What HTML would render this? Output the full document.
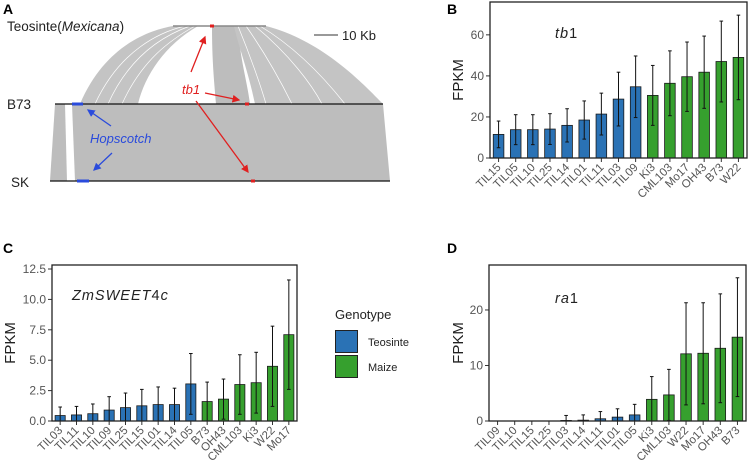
<!DOCTYPE html>
<html><head><meta charset="utf-8"><style>
html,body{margin:0;padding:0;background:#fff;}
svg{display:block;font-family:"Liberation Sans",Arial,sans-serif;}
</style></head><body>
<svg id="fig" width="749" height="467" viewBox="0 0 749 467">
<g>
  <text x="3" y="14" font-size="14" font-weight="bold">A</text>
  <text x="7" y="31" font-size="13.5" fill="#222">Teosinte(<tspan font-style="italic">Mexicana</tspan>)</text>
  <text x="7" y="109" font-size="13.5" fill="#222">B73</text>
  <text x="11" y="187" font-size="13.5" fill="#222">SK</text>
  <path d="M55,104 L65,104 L67,181 L50,181 Z" fill="#bdbdbd"/>
  <path d="M72,104 L383,104 L390,181 L75,181 Z" fill="#bdbdbd"/>
  <path d="M80,104 C105,45 150,30 173,26 L198,26 C165,45 145,75 138,104 Z" fill="#c4c4c4"/>
  <path d="M95,104 C120,50 160,32 185,26 M108,104 C130,55 165,35 190,26 M122,104 C142,60 170,40 195,26" stroke="#fff" stroke-width="0.7" fill="none"/>
  <path d="M212,26 L238,26 C240,60 247,80 250,104 L216,104 C214,80 212,60 212,26 Z" fill="#bdbdbd"/>
  <path d="M234,26 L266,26 C320,40 360,80 383,104 L255,104 C248,70 238,45 234,26 Z" fill="#c4c4c4"/>
  <path d="M238,26 C252,60 262,90 266,104 M246,26 C270,60 285,90 292,104 M255,26 C290,55 312,85 322,104 M260,26 C300,50 330,85 345,104" stroke="#fff" stroke-width="0.7" fill="none"/>
  <line x1="173" y1="26" x2="266" y2="26" stroke="#888" stroke-width="1.5"/>
  <line x1="55" y1="104" x2="383" y2="104" stroke="#111" stroke-width="1.2"/>
  <line x1="50" y1="181" x2="390" y2="181" stroke="#111" stroke-width="1.2"/>
  <rect x="72" y="102.5" width="11" height="3" fill="#2a4bdc"/>
  <rect x="77" y="179.5" width="12" height="3" fill="#2a4bdc"/>
  <rect x="210" y="24.5" width="4" height="3" fill="#e02020"/>
  <rect x="245" y="102.5" width="4" height="3" fill="#e02020"/>
  <rect x="251" y="179.5" width="4" height="3" fill="#e02020"/>
  <defs>
    <marker id="ar" markerWidth="6" markerHeight="6" refX="5" refY="3" orient="auto"><path d="M0,0 L6,3 L0,6 Z" fill="#e02020"/></marker>
    <marker id="ab" markerWidth="6" markerHeight="6" refX="5" refY="3" orient="auto"><path d="M0,0 L6,3 L0,6 Z" fill="#2a4bdc"/></marker>
  </defs>
  <text x="182" y="94" font-size="13" font-style="italic" fill="#e02020">tb1</text>
  <line x1="191" y1="72" x2="205" y2="37" stroke="#e02020" stroke-width="1.3" marker-end="url(#ar)"/>
  <line x1="205" y1="93" x2="239" y2="100" stroke="#e02020" stroke-width="1.3" marker-end="url(#ar)"/>
  <line x1="196" y1="101" x2="248" y2="172" stroke="#e02020" stroke-width="1.3" marker-end="url(#ar)"/>
  <text x="90" y="143" font-size="13" font-style="italic" fill="#2a4bdc">Hopscotch</text>
  <line x1="111" y1="126" x2="88" y2="110" stroke="#2a4bdc" stroke-width="1.3" marker-end="url(#ab)"/>
  <line x1="112" y1="153" x2="94" y2="170" stroke="#2a4bdc" stroke-width="1.3" marker-end="url(#ab)"/>
  <line x1="314" y1="35" x2="338" y2="35" stroke="#333" stroke-width="1"/>
  <text x="342" y="40" font-size="13" fill="#222">10 Kb</text>
</g>
<g>
  <text x="335" y="319" font-size="13" fill="#222">Genotype</text>
  <rect x="335.5" y="330.5" width="22" height="22" fill="#2a72b5" stroke="#222"/>
  <text x="368" y="346" font-size="11" fill="#222">Teosinte</text>
  <rect x="335.5" y="355.5" width="22" height="22" fill="#36a02e" stroke="#222"/>
  <text x="368" y="371" font-size="11" fill="#222">Maize</text>
</g>
</svg>
<script>
const bCats=["TIL15","TIL05","TIL10","TIL25","TIL14","TIL01","TIL11","TIL03","TIL09","Ki3","CML103","Mo17","OH43","B73","W22"];
const bMeans=[11.5,13.8,13.8,14.1,15.9,18.5,21.4,28.7,34.7,30.5,36.4,39.6,41.8,47,49];
const bErr=[6.5,7.3,7.3,7.5,8.1,9.3,10.2,13.1,15,14.6,15.8,16.9,17.6,19.7,20.6];
const bGroups=[0,0,0,0,0,0,0,0,0,1,1,1,1,1,1];
const bTicks=[0,20,40,60];
const cCats=["TIL03","TIL11","TIL10","TIL09","TIL25","TIL15","TIL01","TIL14","TIL05","B73","OH43","CML103","Ki3","W22","Mo17"];
const cMeans=[0.45,0.5,0.6,0.9,1.1,1.25,1.35,1.35,3.05,1.6,1.8,3.0,3.15,4.5,7.1];
const cErr=[0.7,0.7,0.8,1.1,1.2,1.35,1.45,1.35,2.5,1.6,1.65,2.45,2.5,3.3,4.5];
const cGroups=[0,0,0,0,0,0,0,0,0,1,1,1,1,1,1];
const cTicks=[0,2.5,5,7.5,10,12.5];
const cTickLabels=["0.0","2.5","5.0","7.5","10.0","12.5"];
const dCats=["TIL09","TIL10","TIL15","TIL25","TIL03","TIL14","TIL11","TIL01","TIL05","Ki3","CML103","W22","Mo17","OH43","B73"];
const dMeans=[0,0,0,0,0.1,0.15,0.4,0.7,1.1,3.9,4.7,12.1,12.2,13.1,15.1];
const dErr=[0,0,0,0,0.9,0.95,1.3,1.5,1.9,4.1,4.6,9.2,9.1,9.8,10.7];
const dGroups=[0,0,0,0,0,0,0,0,0,1,1,1,1,1,1];
const dTicks=[0,10,20];
const NS="http://www.w3.org/2000/svg";
const svg=document.getElementById('fig');
const colors=["#2a72b5","#36a02e"];
function mk(tag,attrs,parent){const e=document.createElementNS(NS,tag);for(const k in attrs)e.setAttribute(k,attrs[k]);(parent||svg).appendChild(e);return e;}
function panel(o){
  const g=mk('g',{});
  
  
  const {L,T,R,B,ymax}=o;
  const bw=(R-L)/o.cats.length;
  const y=v=>B-(v/ymax)*(B-T);
  const x=i=>L+bw*(i+0.5);
  const lt=mk('text',{x:o.letterX,y:o.letterY,'font-size':14,'font-weight':'bold'},g);lt.textContent=o.letter;
  
  
  o.ticks.forEach((t,i)=>{
    mk('line',{x1:L-4,x2:L,y1:y(t),y2:y(t),stroke:'#333'},g);
    const tx=mk('text',{x:L-6,y:y(t)+4,'font-size':12,fill:'#555','text-anchor':'end'},g);
    tx.textContent=o.tickLabels?o.tickLabels[i]:t;
    
    
  });
  o.cats.forEach((c,i)=>{
    const m=o.means[i],e=o.err[i];
    const r=mk('rect',{x:x(i)-bw*0.31,y:y(m),width:bw*0.62,height:B-y(m),fill:colors[o.groups[i]],stroke:'#1a1a1a','stroke-width':0.8},g);
    
    
    if(e>0){
      const lo=Math.max(0,m-e),hi=m+e;
      mk('line',{x1:x(i),x2:x(i),y1:y(lo),y2:y(hi),stroke:'#111','stroke-width':1},g);
      mk('line',{x1:x(i)-1.8,x2:x(i)+1.8,y1:y(hi),y2:y(hi),stroke:'#111','stroke-width':1},g);
      mk('line',{x1:x(i)-1.8,x2:x(i)+1.8,y1:y(lo),y2:y(lo),stroke:'#111','stroke-width':1},g);
    }
    mk('line',{x1:x(i),x2:x(i),y1:B,y2:B+4,stroke:'#333'},g);
    const tl=mk('text',{x:x(i)+3,y:B+10,'font-size':11.5,fill:'#555','text-anchor':'end',transform:`rotate(-45 ${x(i)+3} ${B+10})`},g);
    tl.textContent=c;
    
    
  });
  const fr=mk('rect',{x:L,y:T,width:R-L,height:B-T,fill:'none',stroke:'#222','stroke-width':1.3},g);
  
  
  const yl=mk('text',{x:o.ylX,y:(T+B)/2,'font-size':15,fill:'#222','text-anchor':'middle',transform:`rotate(-90 ${o.ylX} ${(T+B)/2})`},g);
  yl.textContent='FPKM';
  
  
  const gt=mk('text',{x:o.gx,y:o.gy,'font-size':14.5,fill:'#222','letter-spacing':'1'},g);
  gt.innerHTML=o.gene;
  
  
}
panel({name:'panel-b-tb1',L:490,T:2,R:747,B:158,ymax:76,cats:bCats,means:bMeans,err:bErr,groups:bGroups,ticks:bTicks,letter:'B',letterX:447,letterY:14,ylX:463,gx:555,gy:38,gene:'<tspan font-style="italic">tb</tspan>1'});
panel({name:'panel-c-zmsweet4c',L:52,T:265,R:297,B:421,ymax:12.83,cats:cCats,means:cMeans,err:cErr,groups:cGroups,ticks:cTicks,tickLabels:cTickLabels,letter:'C',letterX:3,letterY:253,ylX:15,gx:72,gy:300,gene:'<tspan font-style="italic">ZmSWEET</tspan>4<tspan font-style="italic">c</tspan>'});
panel({name:'panel-d-ra1',L:489,T:265,R:746,B:421,ymax:28.1,cats:dCats,means:dMeans,err:dErr,groups:dGroups,ticks:dTicks,letter:'D',letterX:447,letterY:253,ylX:463,gx:555,gy:303,gene:'<tspan font-style="italic">ra</tspan>1'});
</script>
</body></html>
